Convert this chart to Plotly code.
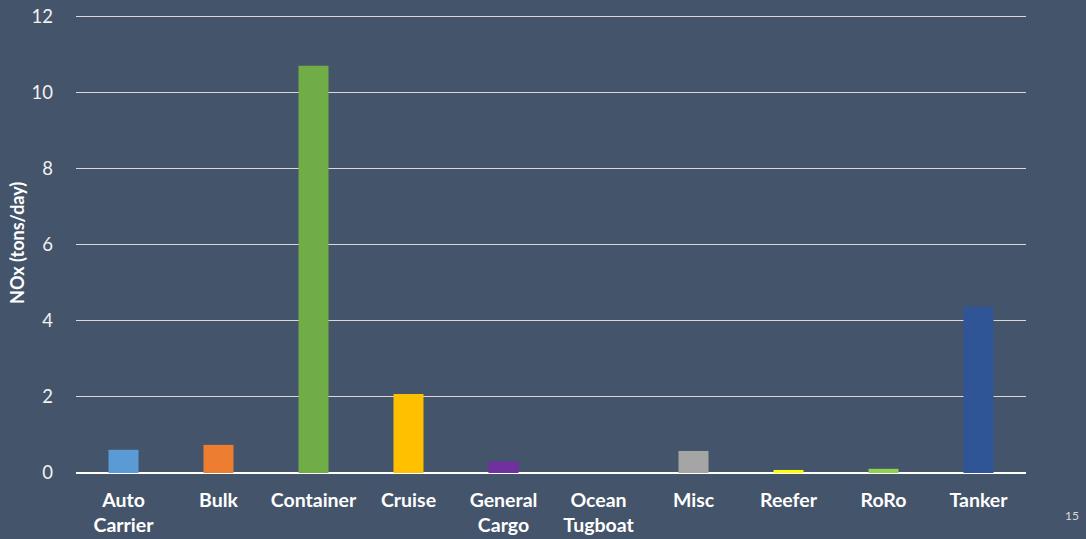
import plotly.graph_objects as go

categories = ["Auto<br>Carrier", "Bulk", "Container", "Cruise", "General<br>Cargo",
              "Ocean<br>Tugboat", "Misc", "Reefer", "RoRo", "Tanker"]
nox_values = [0.61, 0.74, 10.71, 2.08, 0.30, 0.0, 0.58, 0.08, 0.11, 4.37]
bar_colors = ["#5B9BD5", "#ED7D31", "#70AD47", "#FFC000", "#7030A0",
              "#4472C4", "#A5A5A5", "#FFFF00", "#92D050", "#2F5597"]
y_ticks = [0, 2, 4, 6, 8, 10, 12]
y_title = "NOx (tons/day)"

BG = "#44546A"
FONT = "Lato"

fig = go.Figure(go.Bar(
    x=categories, y=nox_values,
    marker=dict(color=bar_colors, line=dict(width=0)),
    hoverinfo="skip",
))

fig.update_layout(
    width=1086, height=539,
    paper_bgcolor=BG, plot_bgcolor=BG,
    margin=dict(l=76, r=60, t=11, b=66),
    bargap=0.684,
    showlegend=False,
    font=dict(family=FONT, color="#FFFFFF"),
)
fig.update_xaxes(
    showgrid=False, showline=False, zeroline=False, automargin=False,
    tickfont=dict(family=FONT, size=19.5, color="#FFFFFF", weight="bold"),
    ticks="", ticklabelstandoff=13,
)
fig.update_yaxes(
    range=[0, 12.15], tickvals=y_ticks, automargin=False,
    showgrid=True, gridcolor="#D9D9D9", gridwidth=1,
    zeroline=True, zerolinecolor="#FFFFFF", zerolinewidth=1.5,
    showline=False, ticks="", ticklabelstandoff=22,
    tickfont=dict(family=FONT, size=18.5, color="#F2F2F2"),
)
fig.add_annotation(text=y_title, xref="paper", yref="paper", x=-0.0621, y=0.498,
                   textangle=-90, showarrow=False, xanchor="center", yanchor="middle",
                   font=dict(family=FONT, size=18, color="#FFFFFF", weight="bold"))
fig.add_annotation(text="15", xref="paper", yref="paper", x=1.048, y=-0.091,
                   showarrow=False, xanchor="center", yanchor="middle",
                   font=dict(family=FONT, size=12, color="#D9D9D9"))

fig.write_html("out.html", config={"displayModeBar": False},
               post_script="document.body.style.margin='0';document.body.style.overflow='hidden';")
